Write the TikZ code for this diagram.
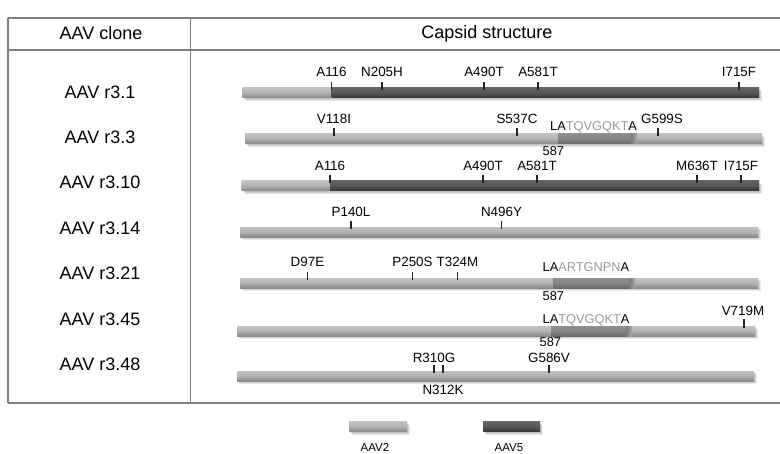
\documentclass[tikz,border=0pt]{standalone}
\usepackage{fontspec}
\setmainfont{Liberation Sans}
\definecolor{instxt}{HTML}{9A9A9A}
\newcommand\capbar[3]{% centre y, x start, x end
  \foreach \s in {1,2,3} {\fill[black, opacity=0.09] (#2+\s,#1-5+\s) rectangle (#3+\s,#1+5+\s);}
  \fill[aavtwo] (#2,#1-5) rectangle (#3,#1+5);}
\newcommand\darkpart[3]{\fill[aavfive] (#2,#1-5) rectangle (#3,#1+5);}
\newcommand\inspart[3]{%
  \fill[insert] (#2,#1-5) rectangle (#3-6,#1+5);
  \shade[left color=black!52, right color=black!34] (#3-6,#1-5) rectangle (#3,#1+5);}
\newcommand\mutn[5]{% name, x, bar centre y, label centre y, text
  \draw[tickmark] (#2,#3-11) -- (#2,#3-3);
  \node[mut] (#1) at (#2,#4+4.8) {#5};}
\begin{document}
\begin{tikzpicture}[x=1pt,y=-1pt,
  rule/.style={draw=black!50, line width=1.5pt},
  hdr/.style={font=\fontsize{18}{21}\selectfont, inner sep=0pt},
  mut/.style={font=\fontsize{13.4}{15}\selectfont, inner sep=0pt, anchor=base},
  ins/.style={font=\fontsize{12.8}{15}\selectfont, inner sep=0pt, anchor=base west},
  leg/.style={font=\fontsize{11.5}{13}\selectfont, inner sep=0pt},
  tickmark/.style={draw=black!85, line width=1.7pt},
  aavtwo/.style={top color=black!24, bottom color=black!46, middle color=black!30},
  aavfive/.style={top color=black!60, bottom color=black!78, middle color=black!66},
  insert/.style={top color=black!44, bottom color=black!58, middle color=black!48}]
\useasboundingbox (0,0) rectangle (780,453);
% table
\draw[rule] (8,18) -- (780,18);
\draw[rule] (8,50) -- (780,50);
\draw[rule] (8,403) -- (780,403);
\draw[rule] (8,18) -- (8,403);
\draw[rule] (190.5,18) -- (190.5,403);
\node[hdr] (h1) at (101,33.5) {AAV clone};
\node[hdr] (h2) at (487,33.5) {Capsid structure};
\node[hdr] (l1) at (100,92) {AAV r3.1};
\node[hdr] (l2) at (100,137) {AAV r3.3};
\node[hdr] (l3) at (100,182) {AAV r3.10};
\node[hdr] (l4) at (100,228) {AAV r3.14};
\node[hdr] (l5) at (100,273.5) {AAV r3.21};
\node[hdr] (l6) at (100,319.5) {AAV r3.45};
\node[hdr] (l7) at (100,364.5) {AAV r3.48};
% r3.1
\capbar{92.5}{242.5}{759}
\darkpart{92.5}{331.5}{759}
\mutn{a1}{331.5}{92.5}{72}{A116}
\mutn{a2}{382}{92.5}{72}{N205H}
\mutn{a3}{484}{92.5}{72}{A490T}
\mutn{a4}{538}{92.5}{72}{A581T}
\mutn{a5}{739}{92.5}{72}{I715F}
% r3.3
\capbar{138.5}{245}{762}
\inspart{138.5}{558}{637}
\mutn{b1}{334}{138.5}{119}{V118I}
\mutn{b2}{517}{138.5}{119}{S537C}
\draw[tickmark] (658,127.5) -- (658,135.5);
\node[mut] (b3) at (662,119+4.8) {G599S};
\node[ins] (b4) at (550,126+4.6) {LA\textcolor{instxt}{TQVGQKT}A};
\node[ins] (b5) at (542.5,151+4.6) {587};
% r3.10
\capbar{185.5}{241.5}{759}
\darkpart{185.5}{330}{759}
\mutn{c1}{330}{185.5}{165.5}{A116}
\mutn{c2}{483}{185.5}{165.5}{A490T}
\mutn{c3}{537}{185.5}{165.5}{A581T}
\mutn{c4}{697}{185.5}{165.5}{M636T}
\mutn{c5}{741}{185.5}{165.5}{I715F}
% r3.14
\capbar{232}{240}{758}
\mutn{d1}{351}{232}{212}{P140L}
\mutn{d2}{501.5}{232}{212}{N496Y}
% r3.21
\capbar{283}{240}{758}
\inspart{283}{553}{635}
\mutn{e1}{307.5}{283}{261.5}{D97E}
\mutn{e2}{412.5}{283}{261.5}{P250S}
\mutn{e3}{457.5}{283}{261.5}{T324M}
\node[ins] (e4) at (542.5,266.5+4.6) {LA\textcolor{instxt}{ARTGNPN}A};
\node[ins] (e5) at (542.5,296+4.6) {587};
% r3.45
\capbar{331}{237}{755}
\inspart{331}{551}{632}
\draw[tickmark] (744,319) -- (744,328);
\node[mut] (f1) at (743,311+4.8) {V719M};
\node[ins] (f2) at (542.5,318.5+4.6) {LA\textcolor{instxt}{TQVGQKT}A};
\node[ins] (f3) at (539.5,341.5+4.6) {587};
% r3.48
\capbar{376}{237}{754}
\mutn{g1}{434}{376}{357.5}{R310G}
\draw[tickmark] (443,365) -- (443,373);
\node[mut] (g2) at (443,390+4.8) {N312K};
\mutn{g3}{549}{376}{357.5}{G586V}
% legend
\capbar{426.5}{349}{407}
\capbar{426.5}{483}{540}
\darkpart{426.5}{483}{540}
\node[leg] (k1) at (375,447.5) {AAV2};
\node[leg] (k2) at (509,447.5) {AAV5};
\end{tikzpicture}
\end{document}
